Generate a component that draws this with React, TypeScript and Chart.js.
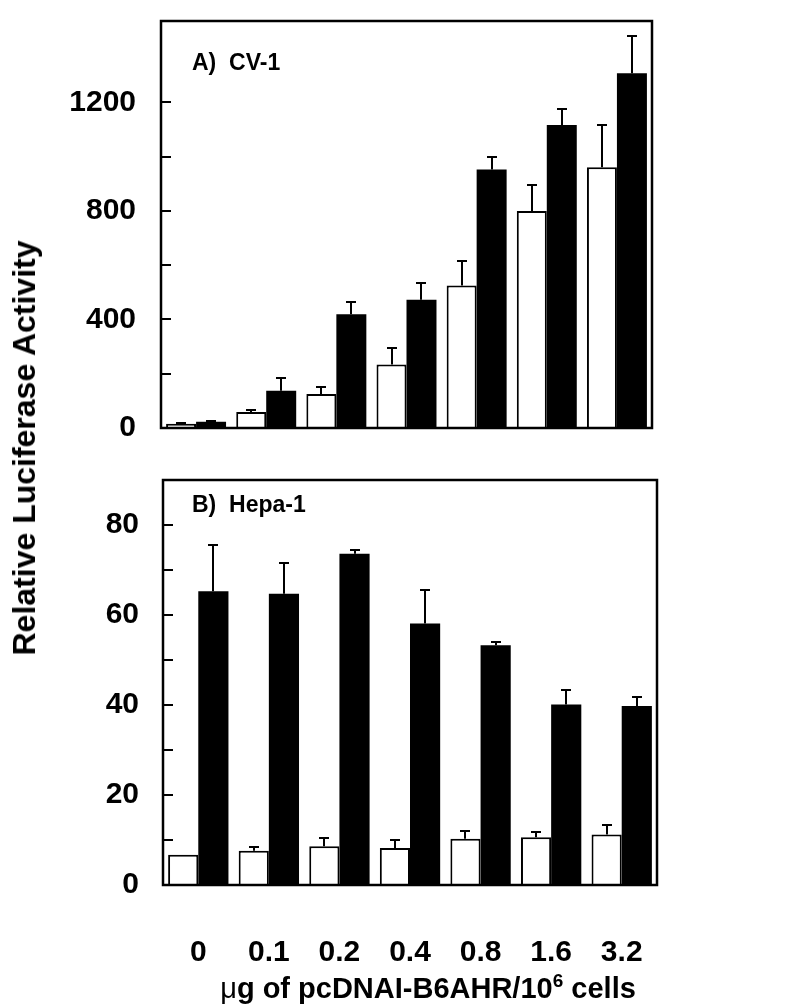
import React, { useEffect, useRef } from 'react';
import { Chart, registerables } from 'chart.js';

Chart.register(...registerables);

const categories = ['0', '0.1', '0.2', '0.4', '0.8', '1.6', '3.2'];

// Panel A (CV-1)
const cvWhite = [16, 59, 125, 234, 525, 800, 961];
const cvWhiteErr = [2, 8, 25, 62, 89, 96, 154];
const cvBlack = [23, 137, 419, 473, 953, 1117, 1307];
const cvBlackErr = [4, 48, 45, 61, 44, 59, 136];

// Panel B (Hepa-1)
const hepaWhite = [6.7, 7.6, 8.6, 8.2, 10.3, 10.6, 11.2];
const hepaWhiteErr = [0, 0.8, 1.8, 1.8, 1.8, 1.2, 2.1];
const hepaBlack = [65.3, 64.7, 73.6, 58.1, 53.3, 40.1, 39.8];
const hepaBlackErr = [10.3, 6.9, 0.9, 7.5, 0.8, 3.2, 1.9];

const yTitle = 'Relative Luciferase Activity';
const xTitleMu = 'μ';
const xTitleMain = 'g of pcDNAI-B6AHR/10';
const xTitleSup = '6';
const xTitleEnd = ' cells';
const panelA = 'A)  CV-1';
const panelB = 'B)  Hepa-1';

const FONT = '"Liberation Sans", Arial, Helvetica, sans-serif';

const errorBarPlugin = {
  id: 'errorBars',
  afterDatasetsDraw(chart: any) {
    const { ctx } = chart;
    const ys = chart.scales.y;
    ctx.save();
    ctx.strokeStyle = '#000';
    ctx.lineWidth = 2;
    chart.data.datasets.forEach((ds: any, di: number) => {
      const errs = ds.errors;
      if (!errs) return;
      const meta = chart.getDatasetMeta(di);
      meta.data.forEach((bar: any, i: number) => {
        const e = errs[i];
        if (!e) return;
        const v = ds.data[i];
        const x = Math.round(bar.x);
        const y0 = bar.y;
        const y1 = Math.round(ys.getPixelForValue(v + e));
        ctx.beginPath();
        ctx.moveTo(x, y0);
        ctx.lineTo(x, y1);
        ctx.moveTo(x - 5, y1);
        ctx.lineTo(x + 5, y1);
        ctx.stroke();
      });
    });
    ctx.restore();
  },
};

const framePlugin = {
  id: 'frame',
  afterDraw(chart: any, _args: any, opts: any) {
    const { ctx, chartArea: a } = chart;
    const ys = chart.scales.y;
    ctx.save();
    ctx.strokeStyle = '#000';
    ctx.lineWidth = 2.5;
    ctx.strokeRect(a.left, a.top, a.right - a.left, a.bottom - a.top);
    ctx.lineWidth = 2;
    ys.ticks.forEach((t: any) => {
      if (t.value <= ys.min || t.value >= ys.max) return;
      if (t.value % opts.minorStep !== 0) return;
      const py = Math.round(ys.getPixelForValue(t.value));
      ctx.beginPath();
      ctx.moveTo(a.left, py);
      ctx.lineTo(a.left + 10, py);
      ctx.stroke();
    });
    ctx.fillStyle = '#000';
    ctx.font = `bold 23px ${FONT}`;
    ctx.textBaseline = 'alphabetic';
    ctx.textAlign = 'left';
    ctx.fillText(opts.label, a.left + opts.dx, a.top + opts.dy);
    ctx.restore();
  },
};

function makeDatasets(white: number[], whiteErr: number[], black: number[], blackErr: number[]) {
  return [
    {
      label: 'white',
      data: white,
      errors: whiteErr,
      backgroundColor: '#ffffff',
      borderColor: '#000000',
      borderWidth: 2,
      borderSkipped: 'bottom',
      categoryPercentage: 0.855,
      barPercentage: 1.0,
    },
    {
      label: 'black',
      data: black,
      errors: blackErr,
      backgroundColor: '#000000',
      borderColor: '#000000',
      borderWidth: 0,
      categoryPercentage: 0.855,
      barPercentage: 1.0,
    },
  ];
}

const yFit = (w: number) => (s: any) => {
  s.width = w;
  s.paddingTop = 0;
  s.paddingBottom = 0;
};

function PanelA() {
  const ref = useRef<HTMLCanvasElement>(null);
  useEffect(() => {
    const chart = new Chart(ref.current as HTMLCanvasElement, {
      type: 'bar',
      data: { labels: categories, datasets: makeDatasets(cvWhite, cvWhiteErr, cvBlack, cvBlackErr) as any },
      plugins: [errorBarPlugin, framePlugin],
      options: {
        animation: false,
        responsive: false,
        maintainAspectRatio: false,
        layout: { padding: { left: 0, right: 148, top: 21, bottom: 22 } },
        plugins: {
          legend: { display: false },
          tooltip: { enabled: false },
          frame: { label: panelA, dx: 31, dy: 49, minorStep: 200 },
        } as any,
        scales: {
          x: { type: 'category', display: false, offset: true },
          y: {
            min: 0,
            max: 1500,
            afterFit: yFit(161),
            grid: { display: false, drawTicks: false },
            border: { display: false },
            ticks: {
              stepSize: 200,
              padding: 25,
              color: '#000',
              font: { family: FONT, size: 30, weight: 'bold' },
              callback: (v: any) => (Number(v) % 400 === 0 ? String(v) : ''),
            },
          },
        },
      },
    } as any);
    return () => chart.destroy();
  }, []);
  return <canvas ref={ref} width={800} height={450} style={{ position: 'absolute', left: 0, top: 0 }} />;
}

function PanelB() {
  const ref = useRef<HTMLCanvasElement>(null);
  useEffect(() => {
    const chart = new Chart(ref.current as HTMLCanvasElement, {
      type: 'bar',
      data: { labels: categories, datasets: makeDatasets(hepaWhite, hepaWhiteErr, hepaBlack, hepaBlackErr) as any },
      plugins: [errorBarPlugin, framePlugin],
      options: {
        animation: false,
        responsive: false,
        maintainAspectRatio: false,
        layout: { padding: { left: 0, right: 143, top: 30, bottom: 0 } },
        plugins: {
          legend: { display: false },
          tooltip: { enabled: false },
          frame: { label: panelB, dx: 29, dy: 32, minorStep: 10 },
        } as any,
        scales: {
          x: {
            type: 'category',
            offset: true,
            afterFit: (s: any) => { s.height = 123; s.paddingLeft = 0; s.paddingRight = 0; },
            grid: { display: false, drawTicks: false },
            border: { display: false },
            ticks: {
              padding: 50,
              color: '#000',
              maxRotation: 0,
              font: { family: FONT, size: 30, weight: 'bold' },
            },
          },
          y: {
            min: 0,
            max: 90,
            afterFit: yFit(163),
            grid: { display: false, drawTicks: false },
            border: { display: false },
            ticks: {
              stepSize: 10,
              padding: 24,
              color: '#000',
              font: { family: FONT, size: 30, weight: 'bold' },
              callback: (v: any) => (Number(v) % 20 === 0 ? String(v) : ''),
            },
          },
        },
      },
    } as any);
    return () => chart.destroy();
  }, []);
  return <canvas ref={ref} width={800} height={558} style={{ position: 'absolute', left: 0, top: 450 }} />;
}

export default function App() {
  return (
    <div style={{ position: 'fixed', left: 0, top: 0, width: 800, height: 1008, background: '#fff', overflow: 'hidden' }}>
      <PanelA />
      <PanelB />
      <div
        style={{
          position: 'absolute',
          left: 24,
          top: 448,
          transform: 'translate(-50%, -50%) rotate(-90deg)',
          whiteSpace: 'nowrap',
          font: `bold 32px ${FONT}`,
          color: '#000',
          lineHeight: '36px',
        }}
      >
        {yTitle}
      </div>
      <div
        style={{
          position: 'absolute',
          left: 428,
          top: 988,
          transform: 'translate(-50%, -50%)',
          whiteSpace: 'nowrap',
          font: `bold 29px ${FONT}`,
          color: '#000',
          lineHeight: '34px',
        }}
      >
        <span style={{ fontWeight: 'normal' }}>{xTitleMu}</span>
        {xTitleMain}
        <sup style={{ fontSize: '19px', verticalAlign: '11px', lineHeight: 0 }}>{xTitleSup}</sup>
        {xTitleEnd}
      </div>
    </div>
  );
}
